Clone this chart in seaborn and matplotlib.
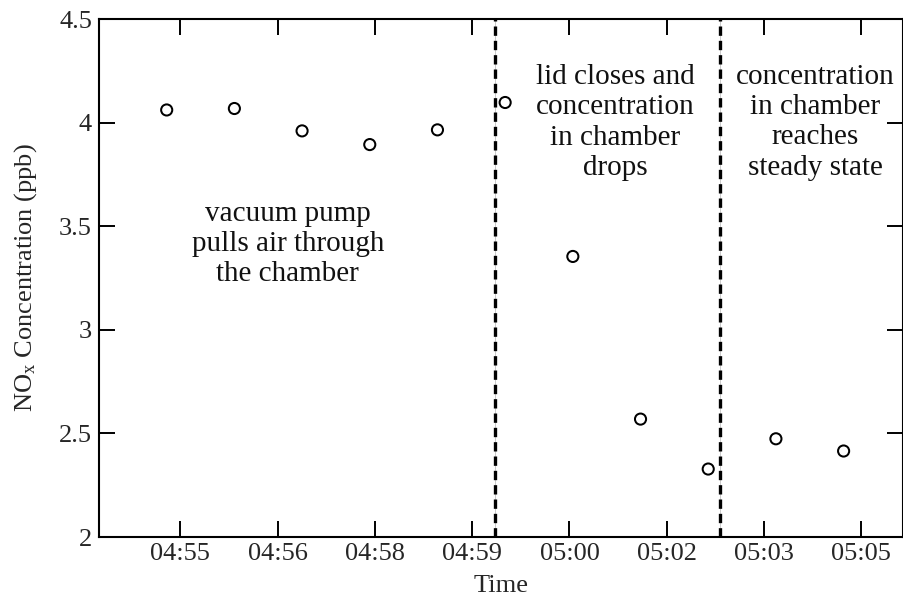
import numpy as np
import pandas as pd
import matplotlib
matplotlib.use("Agg")
import matplotlib.pyplot as plt
import seaborn as sns

# ---- data ----
minutes = [55, 56, 57, 58, 59, 60, 61, 62, 63, 64, 65]          # minutes after 04:00
nox_ppb = [4.061, 4.068, 3.960, 3.894, 3.965, 4.097, 3.354, 2.569, 2.328, 2.474, 2.415]
tick_pos = [55.2, 56.64, 58.08, 59.51, 60.95, 62.39, 63.83, 65.26]
tick_labels = ["04:55", "04:56", "04:58", "04:59", "05:00", "05:02", "05:03", "05:05"]
y_ticks = [2, 2.5, 3, 3.5, 4, 4.5]
y_tick_labels = ["2", "2.5", "3", "3.5", "4", "4.5"]
phase_bounds = [59.845, 63.18]
notes = ["vacuum pump\npulls air through\nthe chamber",
         "lid closes and\nconcentration\nin chamber\ndrops",
         "concentration\nin chamber\nreaches\nsteady state"]
note_x = [56.79, 61.63, 64.58]
note_top = [3.624, 4.283, 4.285]

df = pd.DataFrame({"Time": minutes, "NOx": nox_ppb})

sns.set_style("ticks")
plt.rcParams["font.family"] = ["Liberation Serif", "DejaVu Serif"]
plt.rcParams["mathtext.fontset"] = "custom"
plt.rcParams["mathtext.rm"] = "Liberation Serif"
plt.rcParams["mathtext.it"] = "Liberation Serif:italic"

fig = plt.figure(figsize=(9.04, 5.98), dpi=100)
ax = fig.add_axes([99 / 904, 61 / 598, 803.5 / 904, 518 / 598])

for xb in phase_bounds:
    ax.axvline(xb, color="#c0c0c0", lw=0.6, zorder=1)
    ax.axvline(xb, color="black", lw=2.4, ls=(0, (2.8, 1.5)), zorder=2)

sns.scatterplot(data=df, x="Time", y="NOx", ax=ax, marker="o", s=64,
                color="black", facecolor="none", edgecolor="black",
                linewidth=1.45, zorder=3)

for txt, tx, ty in zip(notes, note_x, note_top):
    ax.text(tx, ty, txt, ha="center", va="top", fontsize=21,
            linespacing=1.22, multialignment="center", color="#111111")

ax.set_xlim(54.0, 65.87)
ax.set_ylim(2, 4.5)
ax.set_xticks(tick_pos)
ax.set_xticklabels(tick_labels)
ax.set_yticks(y_ticks)
ax.set_yticklabels(y_tick_labels)

ax.tick_params(axis="both", direction="in", length=11.5, width=1.4,
               top=True, right=True, labelsize=19, color="black")
ax.tick_params(axis="x", pad=4.0)
ax.tick_params(axis="y", pad=5.0)
for sp in ax.spines.values():
    sp.set_linewidth(1.5)
    sp.set_color("black")
    sp.set_visible(True)

ax.set_xlabel("Time", fontsize=19)
ax.set_ylabel(r"NO$_{\mathrm{x}}$ Concentration (ppb)", fontsize=19)
ax.xaxis.set_label_coords(0.5, -0.073)
ax.yaxis.set_label_coords(-0.075, 0.5)

fig.savefig("out.png", dpi=100)
